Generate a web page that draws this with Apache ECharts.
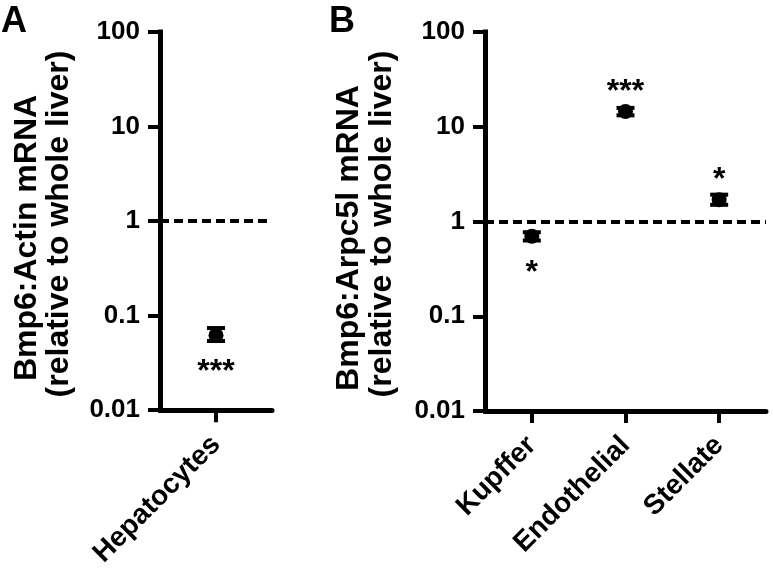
<!DOCTYPE html>
<html>
<head>
<meta charset="utf-8">
<script src="https://cdn.jsdelivr.net/npm/echarts@6/dist/echarts.min.js"></script>
<style>html,body{margin:0;padding:0;background:#fff;}#c{width:773px;height:570px;}</style>
</head>
<body>
<div id="c"></div>
<script>
// ---- data ----
var catsA = ['Hepatocytes'];
var meanA = [0.062];
var lowA = [0.054];
var highA = [0.074];
var sigA = ['***'];
var sigPosA = ['below'];

var catsB = ['Kupffer', 'Endothelial', 'Stellate'];
var meanB = [0.70, 14.5, 1.70];
var lowB = [0.63, 13.2, 1.50];
var highB = [0.77, 15.8, 1.92];
var sigB = ['*', '***', '*'];
var sigPosB = ['below', 'above', 'above'];

var yTickLabels = ['0.01', '0.1', '1', '10', '100'];
var referenceLevel = 1;
var titleA = ['Bmp6:Actin mRNA', '(relative to whole liver)'];
var titleB = ['Bmp6:Arpc5l mRNA', '(relative to whole liver)'];

var FONT = '"Liberation Sans", Arial, Helvetica, sans-serif';

function yAxisCfg(gi) {
  return {
    type: 'log', logBase: 10, min: 0.01, max: 100, gridIndex: gi,
    splitLine: {show: false},
    minorTick: {show: false},
    axisLine: {show: true, lineStyle: {color: '#000', width: 5, cap: 'square'}},
    axisTick: {show: true, length: 12, lineStyle: {color: '#000', width: 4}},
    axisLabel: {
      margin: 20, color: '#000', fontSize: 26, fontWeight: 'bold', fontFamily: FONT,
      formatter: function (v, i) { return yTickLabels[i]; }
    }
  };
}
function xAxisCfg(gi, cats) {
  return {
    type: 'category', data: cats, gridIndex: gi, boundaryGap: true,
    axisLine: {show: true, lineStyle: {color: '#000', width: 5}},
    axisTick: {show: true, alignWithLabel: true, length: 12, lineStyle: {color: '#000', width: 4}},
    axisLabel: {
      rotate: 45, margin: 30, color: '#000', fontSize: 28, fontWeight: 'bold', fontFamily: FONT, interval: 0
    },
    splitLine: {show: false}
  };
}
function errSeries(gi, lows, highs) {
  var data = lows.map(function (l, i) { return [i, l, highs[i]]; });
  return {
    type: 'custom', xAxisIndex: gi, yAxisIndex: gi, silent: true, z: 5,
    encode: {x: 0, y: [1, 2]},
    data: data,
    renderItem: function (params, api) {
      var lo = api.coord([api.value(0), api.value(1)]);
      var hi = api.coord([api.value(0), api.value(2)]);
      var hw = 9;
      var st = {stroke: '#000', lineWidth: 4};
      return {type: 'group', children: [
        {type: 'line', shape: {x1: lo[0], y1: lo[1], x2: hi[0], y2: hi[1]}, style: st},
        {type: 'line', shape: {x1: lo[0] - hw, y1: lo[1], x2: lo[0] + hw, y2: lo[1]}, style: st},
        {type: 'line', shape: {x1: hi[0] - hw, y1: hi[1], x2: hi[0] + hw, y2: hi[1]}, style: st}
      ]};
    }
  };
}
function pointSeries(gi, means, sigs, pos) {
  return {
    type: 'scatter', xAxisIndex: gi, yAxisIndex: gi, symbol: 'circle', symbolSize: 15, z: 6,
    itemStyle: {color: '#000', opacity: 1},
    data: means.map(function (m, i) {
      var below = pos[i] === 'below';
      return {
        value: m,
        label: {
          show: true, formatter: sigs[i], position: below ? 'bottom' : 'top',
          distance: below ? 13 : -4, opacity: 1,
          color: '#000', fontSize: 32, fontWeight: 'bold', fontFamily: FONT
        }
      };
    }),
    markLine: {
      silent: true, symbol: ['none', 'none'], label: {show: false},
      lineStyle: {color: '#000', width: 4, type: [9, 5], opacity: 1},
      data: [{yAxis: referenceLevel}]
    }
  };
}
function titleText(lines, xs, ys) {
  return lines.map(function (t, i) {
    return {
      type: 'text', x: xs[i], y: ys[i], rotation: Math.PI / 2,
      style: {text: t, fill: '#000', font: 'bold 32px ' + FONT, align: 'center', verticalAlign: 'middle'}
    };
  });
}

var chart = echarts.init(document.getElementById('c'), null, {renderer: 'canvas'});
chart.setOption({
  backgroundColor: '#fff',
  animation: false,
  grid: [
    {left: 160, top: 32, width: 112, height: 379},
    {left: 485, top: 32, width: 281, height: 379}
  ],
  xAxis: [xAxisCfg(0, catsA), xAxisCfg(1, catsB)],
  yAxis: [yAxisCfg(0), yAxisCfg(1)],
  series: [
    errSeries(0, lowA, highA),
    pointSeries(0, meanA, sigA, sigPosA),
    errSeries(1, lowB, highB),
    pointSeries(1, meanB, sigB, sigPosB)
  ],
  graphic: [
    {type: 'text', left: 1, top: 4, style: {text: 'A', fill: '#000', font: 'bold 36px ' + FONT}},
    {type: 'text', left: 329, top: 4, style: {text: 'B', fill: '#000', font: 'bold 36px ' + FONT}}
  ].concat(titleText(titleA, [27, 59], [238, 224]))
   .concat(titleText(titleB, [349, 382], [238, 224]))
});
</script>
</body>
</html>
